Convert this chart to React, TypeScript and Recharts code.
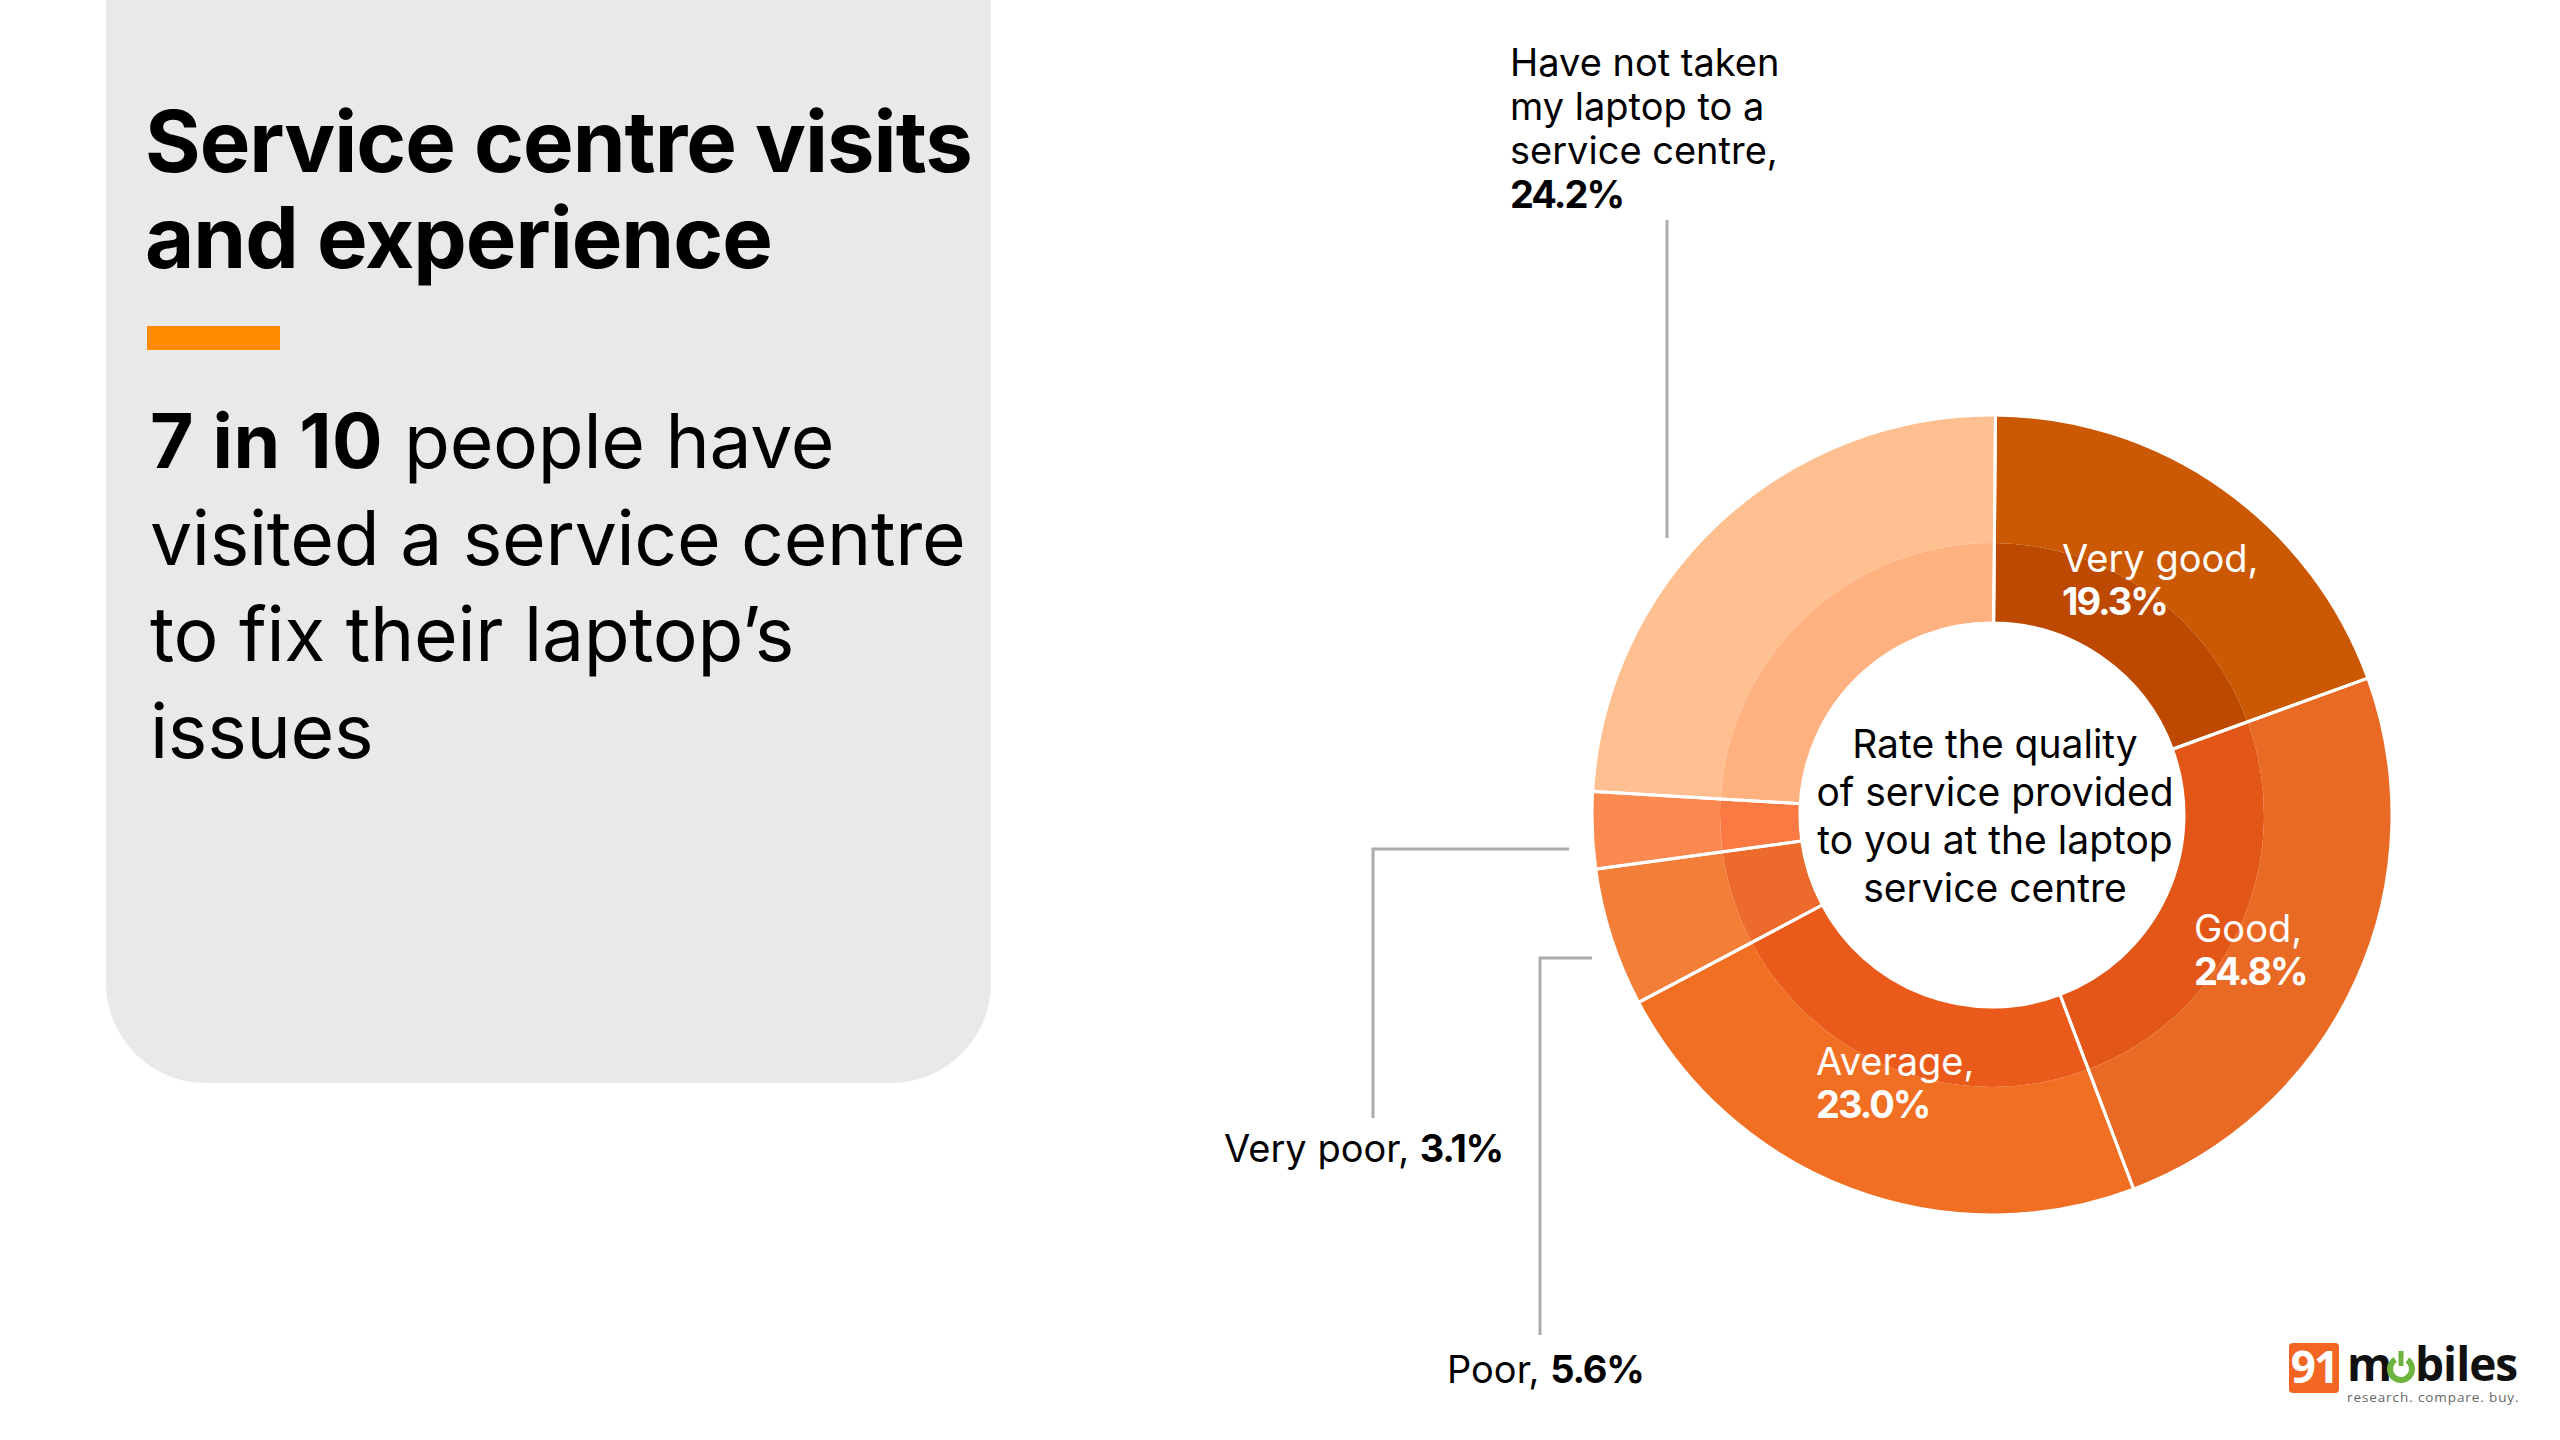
import { PieChart, Pie, Cell } from "recharts";

const categories = ["Very good", "Good", "Average", "Poor", "Very poor", "Have not taken"];
const shares = [19.3, 24.8, 23.0, 5.6, 3.1, 24.2];
const outerColors = ["#CB5803", "#E96A24", "#F06F23", "#F37E38", "#FC8A50", "#FEC091"];
const innerColors = ["#BD4900", "#E25718", "#EA5B1B", "#EC6A2C", "#FB7A44", "#FFB280"];

const tableData = categories.map((name, i) => ({ name, value: shares[i] }));

const FONT = "Inter, 'Noto Sans', sans-serif";
const START = 89.5;
const CX = 1987;
const CY = 810;

const bodyLines = ["visited a service centre", "to fix their laptop\u2019s", "issues"];
const centerLines = ["Rate the quality", "of service provided", "to you at the laptop", "service centre"];
const notTakenLines = ["Have not taken", "my laptop to a", "service centre,"];

function pct(i: number) {
  return shares[i].toFixed(1) + "%";
}

function SliceLabel({ x, y, i }: { x: number; y: number; i: number }) {
  return (
    <text x={x} y={y} fill="#fff" fontSize={38}>
      <tspan>{categories[i]},</tspan>
      <tspan x={x} dy={43} fontWeight={700} letterSpacing={-2}>{pct(i)}</tspan>
    </text>
  );
}

export default function App() {
  return (
    <div style={{ position: "absolute", left: 0, top: 0, width: 2560, height: 1440, background: "#fff", fontFamily: FONT, overflow: "hidden" }}>
      <div style={{ position: "absolute", left: 106, top: -100, width: 885, height: 1183, background: "#E9E9E9", borderRadius: 100 }} />

      <div style={{ position: "absolute", left: 145, top: 94, fontSize: 85, fontWeight: 700, lineHeight: "96px", color: "#000", letterSpacing: -1, whiteSpace: "nowrap" }}>
        Service centre visits
        <br />
        and experience
      </div>
      <div style={{ position: "absolute", left: 147, top: 326, width: 133, height: 24, background: "#FF8C00" }} />
      <div style={{ position: "absolute", left: 150, top: 393, fontSize: 75, lineHeight: "96.5px", color: "#000", letterSpacing: -0.3, whiteSpace: "nowrap" }}>
        <b style={{ fontWeight: 700, letterSpacing: 0.6 }}>7 in 10</b> people have
        {bodyLines.map((t) => (
          <div key={t}>{t}</div>
        ))}
      </div>

      <div style={{ position: "absolute", left: 0, top: 0 }}>
        <PieChart width={2560} height={1440}>
          <Pie data={tableData} dataKey="value" cx={CX} cy={CY} innerRadius={272} outerRadius={400} startAngle={START} endAngle={START - 360} stroke="none" isAnimationActive={false}>
            {tableData.map((d, i) => (
              <Cell key={d.name} fill={outerColors[i]} />
            ))}
          </Pie>
          <Pie data={tableData} dataKey="value" cx={CX} cy={CY} innerRadius={192} outerRadius={272} startAngle={START} endAngle={START - 360} stroke="none" isAnimationActive={false}>
            {tableData.map((d, i) => (
              <Cell key={d.name} fill={innerColors[i]} />
            ))}
          </Pie>
          {/* white separators across both rings */}
          <Pie data={tableData} dataKey="value" cx={CX} cy={CY} innerRadius={192} outerRadius={400} startAngle={START} endAngle={START - 360} fill="none" stroke="#fff" strokeWidth={3} isAnimationActive={false}>
            {tableData.map((d) => (
              <Cell key={d.name} fill="none" stroke="#fff" strokeWidth={3} />
            ))}
          </Pie>
        </PieChart>
      </div>

      <svg width={2560} height={1440} style={{ position: "absolute", left: 0, top: 0, fontFamily: FONT }}>
        <g fill="none" stroke="#ABABAB" strokeWidth={3}>
          <polyline points="1667,220 1667,538" />
          <polyline points="1569,849 1373,849 1373,1118" />
          <polyline points="1592,958 1540,958 1540,1335" />
        </g>

        <text fontSize={38} fill="#000">
          {notTakenLines.map((t, i) => (
            <tspan key={t} x={1510} y={76 + i * 44}>{t}</tspan>
          ))}
          <tspan x={1510} y={208} fontWeight={700} letterSpacing={-2}>{pct(5)}</tspan>
        </text>

        <text x={1224} y={1162} fontSize={38} fill="#000">
          {categories[4]}, <tspan fontWeight={700} letterSpacing={-1.2}>{pct(4)}</tspan>
        </text>
        <text x={1447} y={1383} fontSize={38} fill="#000">
          {categories[3]}, <tspan fontWeight={700} letterSpacing={-1.2}>{pct(3)}</tspan>
        </text>

        <SliceLabel x={2062} y={572} i={0} />
        <SliceLabel x={2194} y={942} i={1} />
        <SliceLabel x={1816} y={1075} i={2} />

        <text fontSize={39} fill="#000" textAnchor="middle">
          {centerLines.map((t, i) => (
            <tspan key={t} x={1995} y={758 + i * 48}>{t}</tspan>
          ))}
        </text>

        {/* logo */}
        <rect x={2289} y={1343} width={50} height={50} rx={4} fill="#F26522" />
        <text x={2314} y={1383} fontSize={44} fontWeight={700} fill="#fff" textAnchor="middle" fontFamily="'Open Sans', sans-serif" letterSpacing={-2}>91</text>
        <text x={2347} y={1381} fontSize={46} fontWeight={700} fill="#111" fontFamily="'Open Sans', sans-serif" letterSpacing={-1}>m</text>
        <circle cx={2401} cy={1369} r={11} fill="none" stroke="#6DB33F" strokeWidth={6} strokeDasharray="56 13" transform="rotate(-55 2401 1369)" />
        <line x1={2401} y1={1351} x2={2401} y2={1366} stroke="#6DB33F" strokeWidth={5} />
        <text x={2415} y={1381} fontSize={46} fontWeight={700} fill="#111" fontFamily="'Open Sans', sans-serif" letterSpacing={-1}>biles</text>
        <text x={2347} y={1402} fontSize={13.5} fill="#666" letterSpacing={0.9} fontFamily="'Open Sans', sans-serif">research. compare. buy.</text>
      </svg>
    </div>
  );
}
